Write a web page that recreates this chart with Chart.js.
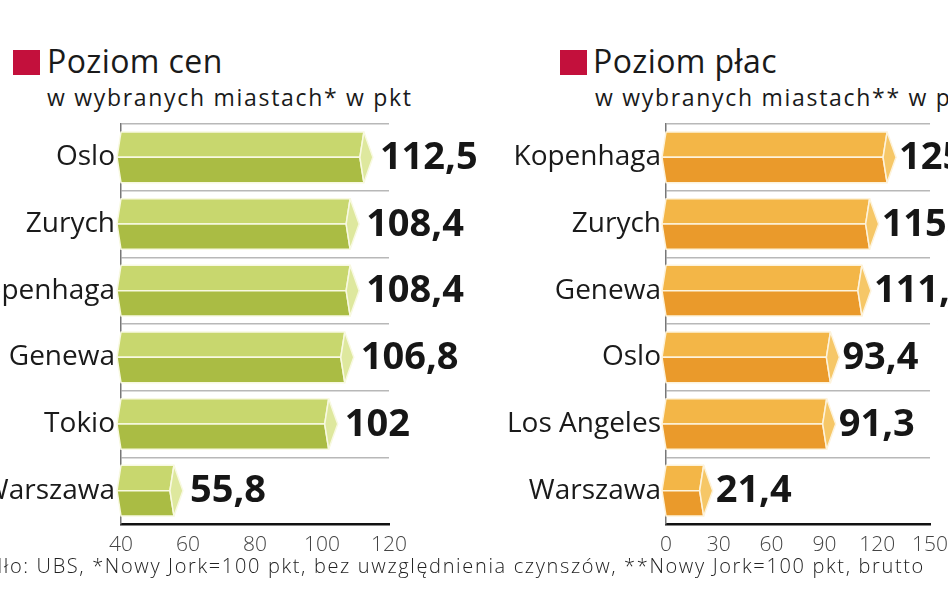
<!DOCTYPE html>
<html>
<head>
<meta charset="utf-8">
<script src="https://cdn.jsdelivr.net/npm/chart.js@4"></script>
<style>
  html, body { margin: 0; padding: 0; background: #fff; }
  body { width: 948px; height: 593px; overflow: hidden; position: relative; font-family: 'Open Sans', sans-serif; }
  canvas { position: absolute; top: 0; }
  .sq { position: absolute; width: 27px; height: 25px; background: #c3103c; }
  .ttl { position: absolute; font-size: 32px; line-height: 32px; letter-spacing: 0.4px; color: #1a1a1a; white-space: nowrap; }
  .sub { position: absolute; font-size: 23px; line-height: 23px; letter-spacing: 1.7px; color: #1a1a1a; white-space: nowrap; }
  .foot { position: absolute; right: 23px; top: 556px; font-size: 20px; line-height: 20px; letter-spacing: 1.65px; font-weight: 300; color: #222; white-space: nowrap; }
</style>
</head>
<body>
<div class="sq" style="left:13px; top:50px;"></div>
<div class="ttl" style="left:47px; top:45px;">Poziom cen</div>
<div class="sub" style="left:47px; top:86px;">w wybranych miastach* w pkt</div>

<div class="sq" style="left:560px; top:50px;"></div>
<div class="ttl" style="left:593px; top:45px;">Poziom płac</div>
<div class="sub" style="left:595px; top:86px;">w wybranych miastach** w pkt</div>

<canvas id="prices-canvas" width="600" height="593" style="left:-100px;"></canvas>
<canvas id="wages-canvas" width="468" height="593" style="left:480px;"></canvas>

<div class="foot">Źródło: UBS, *Nowy Jork=100 pkt, bez uwzględnienia czynszów, **Nowy Jork=100 pkt, brutto</div>

<script>
// Data
var priceCities = ['Oslo', 'Zurych', 'Kopenhaga', 'Genewa', 'Tokio', 'Warszawa'];
var priceValues = [112.5, 108.4, 108.4, 106.8, 102, 55.8];
var priceTicks  = [40, 60, 80, 100, 120];

var wageCities = ['Kopenhaga', 'Zurych', 'Genewa', 'Oslo', 'Los Angeles', 'Warszawa'];
var wageValues = [125.6, 115.7, 111.3, 93.4, 91.3, 21.4];
var wageTicks  = [0, 30, 60, 90, 120, 150];

// Polish decimal comma
function fmt(v) { return String(v).replace('.', ','); }

// Draws each bar as a bevelled prism (top face, bottom face, end cap) + value label
var bar3d = {
  id: 'bar3d',
  afterDatasetsDraw: function(chart, args, opts) {
    var ctx = chart.ctx;
    var meta = chart.getDatasetMeta(0);
    var values = chart.data.datasets[0].data;
    var lean = 4, tip = 9;

    ctx.save();
    meta.data.forEach(function(el, i) {
      var p = el.getProps(['x', 'y', 'base', 'height'], true);
      var x0 = p.base, x1 = p.x, mid = p.y;
      var top = mid - p.height / 2, bot = mid + p.height / 2;

      ctx.lineWidth = 1.5;
      ctx.strokeStyle = opts.edge;
      ctx.lineJoin = 'round';

      // upper face
      ctx.beginPath();
      ctx.moveTo(x0, top); ctx.lineTo(x1, top);
      ctx.lineTo(x1 - lean, mid); ctx.lineTo(x0 - lean, mid);
      ctx.closePath();
      ctx.fillStyle = opts.top; ctx.fill(); ctx.stroke();

      // lower face
      ctx.beginPath();
      ctx.moveTo(x0 - lean, mid); ctx.lineTo(x1 - lean, mid);
      ctx.lineTo(x1, bot); ctx.lineTo(x0, bot);
      ctx.closePath();
      ctx.fillStyle = opts.bottom; ctx.fill(); ctx.stroke();

      // end cap
      ctx.beginPath();
      ctx.moveTo(x1, top); ctx.lineTo(x1 + tip, mid);
      ctx.lineTo(x1, bot); ctx.lineTo(x1 - lean, mid);
      ctx.closePath();
      ctx.fillStyle = opts.cap; ctx.fill(); ctx.stroke();

      // value label
      ctx.fillStyle = '#161616';
      ctx.font = 'bold 38px "Open Sans"';
      ctx.textAlign = 'left';
      ctx.textBaseline = 'middle';
      ctx.fillText(fmt(values[i]), x1 + tip + opts.gap, mid + 1);
    });
    ctx.restore();
  }
};

// Build one horizontal bar panel. areaLeft/areaRight are chart-area edges in canvas px
function makePanel(canvasId, cities, values, ticks, colors, areaLeft, areaRight, labelGap) {
  var canvas = document.getElementById(canvasId);
  return new Chart(canvas, {
    type: 'bar',
    data: {
      labels: cities,
      datasets: [{
        data: values,
        base: ticks[0],               /* bars start at the axis minimum */
        backgroundColor: 'rgba(0,0,0,0)',
        borderWidth: 0,
        barPercentage: 0.76,
        categoryPercentage: 1,
      }],
    },
    options: {
      indexAxis: 'y',
      responsive: false,
      animation: false,
      layout: { padding: { left: 0, top: 124, right: canvas.width - areaRight, bottom: 0 } },
      plugins: {
        legend: { display: false },
        tooltip: { enabled: false },
        bar3d: colors,
      },
      scales: {
        x: {
          min: ticks[0],
          max: ticks[ticks.length - 1],
          afterBuildTicks: function(scale) {
            scale.ticks = ticks.map(function(t) { return { value: t }; });
          },
          afterFit: function(scale) { scale.height = 593 - 524; },
          grid: { display: false },
          border: { display: true, color: '#111', width: 2.5 },
          ticks: {
            padding: 0,
            maxRotation: 0,
            autoSkip: false,
            color: '#444',
            font: { family: 'Open Sans', size: 21, weight: '300' },
          },
        },
        y: {
          afterFit: function(scale) { scale.width = areaLeft; },
          grid: { color: '#b8b8b8', lineWidth: 1.5, offset: true, drawTicks: false },
          border: { display: true, color: '#777', width: 1.5 },
          ticks: {
            padding: labelGap,
            color: '#1a1a1a',
            font: { family: 'Open Sans', size: 28 },
          },
        },
      },
    },
    plugins: [bar3d],
  });
}

function initCharts() {
  makePanel('prices-canvas', priceCities, priceValues, priceTicks,
    { top: '#c8d76e', bottom: '#aabc44', cap: '#dee89e', edge: '#f8f9e2', gap: 7 },
    221, 489, 6);
  makePanel('wages-canvas', wageCities, wageValues, wageTicks,
    { top: '#f3b647', bottom: '#ea9a2b', cap: '#f6c767', edge: '#fdf3dc', gap: 3 },
    186, 458, 5);
}

document.addEventListener('DOMContentLoaded', initCharts);
</script>
</body>
</html>
